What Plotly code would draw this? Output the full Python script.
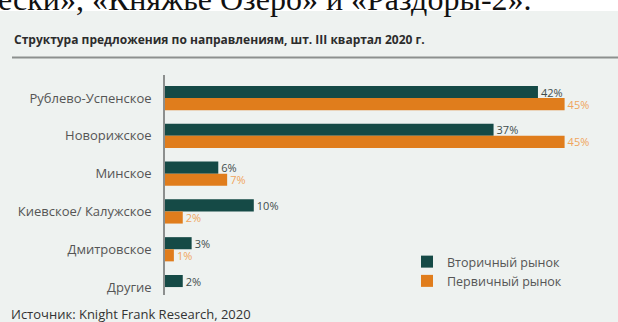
import plotly.graph_objects as go

# Directions and market shares, %
categories = ["Рублево-Успенское", "Новорижское", "Минское",
              "Киевское/ Калужское", "Дмитровское", "Другие"]
secondary = [42, 37, 6, 10, 3, 2]          # Вторичный рынок
primary = [45, 45, 7, 2, 1, None]          # Первичный рынок

title_text = "Структура предложения по направлениям, шт. III квартал 2020 г."
source_text = "Источник: Knight Frank Research, 2020"
header_text = "ески», «Княжье Озеро» и «Раздоры-2»."

W, H = 618, 322
ML, MR, MT, MB = 165, 9, 75, 27
PW, PH = W - ML - MR, H - MT - MB

def px_x(q):
    return (q - ML) / PW

def px_y(p):
    return (H - MB - p) / PH

DARK = "#154a46"
ORANGE = "#e07d1c"
PANEL = "#eef2f0"
FONT = "Open Sans"

fig = go.Figure()
fig.add_trace(go.Bar(
    y=categories, x=secondary, orientation="h", name="Вторичный рынок",
    marker=dict(color=DARK, line=dict(width=0)),
    texttemplate="%{x}%", textposition="outside", constraintext="none",
    textfont=dict(family=FONT, size=11, color="#3e4d4c"), cliponaxis=False,
))
fig.add_trace(go.Bar(
    y=categories, x=primary, orientation="h", name="Первичный рынок",
    marker=dict(color=ORANGE, line=dict(width=0)),
    texttemplate="%{x}%", textposition="outside", constraintext="none",
    textfont=dict(family=FONT, size=11, color="#f0a55c"), cliponaxis=False,
))

fig.update_layout(
    width=W, height=H,
    margin=dict(l=ML, r=MR, t=MT, b=MB, pad=0),
    paper_bgcolor=PANEL, plot_bgcolor=PANEL,
    barmode="group", bargap=0.36, bargroupgap=0,
    font=dict(family=FONT, color="#555"),
    xaxis=dict(range=[0, 50], visible=False, fixedrange=True),
    yaxis=dict(
        categoryorder="array", categoryarray=categories,
        range=[5.21, -0.61], showgrid=False, zeroline=False,
        showline=True, linecolor="#8c8f8e", linewidth=1.5,
        ticks="", ticklabelstandoff=9,
        tickfont=dict(family=FONT, size=13, color="#555"),
    ),
    legend=dict(
        x=px_x(407), y=px_y(247), xanchor="left", yanchor="top",
        bgcolor="rgba(0,0,0,0)", font=dict(family=FONT, size=12.5, color="#555"),
        itemwidth=30, traceorder="normal",
    ),
    showlegend=True,
)

# white strip above the panel with the preceding document text
fig.add_shape(type="rect", xref="paper", yref="paper",
              x0=px_x(0), x1=px_x(W), y0=px_y(11), y1=px_y(-5),
              fillcolor="white", line=dict(width=0), layer="below")
fig.add_annotation(text=header_text, xref="paper", yref="paper",
                   x=px_x(-4), y=px_y(-1), xanchor="left", yanchor="middle",
                   showarrow=False,
                   font=dict(family="Liberation Serif", size=32, color="#111"))

# title and rule beneath it
fig.add_annotation(text="<b>" + title_text + "</b>", xref="paper", yref="paper",
                   x=px_x(12), y=px_y(40), xanchor="left", yanchor="middle",
                   showarrow=False,
                   font=dict(family=FONT, size=12, color="#2c2c2c"))
fig.add_shape(type="line", xref="paper", yref="paper",
              x0=px_x(12), x1=px_x(W), y0=px_y(57.5), y1=px_y(57.5),
              line=dict(color="#8c908e", width=2))

# source note
fig.add_annotation(text=source_text, xref="paper", yref="paper",
                   x=px_x(9), y=px_y(314), xanchor="left", yanchor="middle",
                   showarrow=False,
                   font=dict(family=FONT, size=13, color="#333"))

fig.write_html("out.html")
